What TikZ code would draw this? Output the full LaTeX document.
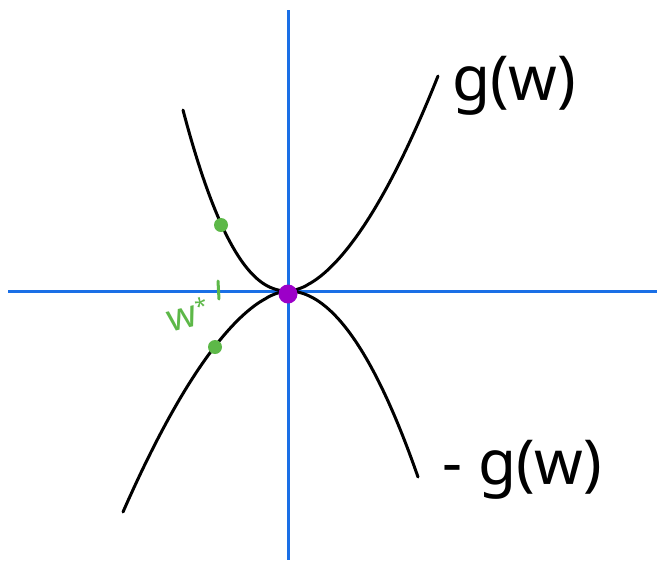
\documentclass[tikz,border=0pt]{standalone}
\usepackage{fontspec}
\setmainfont{Noto Sans}
\begin{document}
\begin{tikzpicture}[x=1pt,y=-1pt,
  axis/.style={draw=axisblue,line width=3pt},
  curve/.style={draw=black,line width=3pt,line cap=round},
  gdot/.style={circle,fill=dotgreen,inner sep=0pt,minimum size=14pt},
  pdot/.style={circle,fill=dotpurple,inner sep=0pt,minimum size=19pt},
  lbl/.style={inner sep=0pt,font=\fontsize{62}{70}\selectfont}]
\definecolor{axisblue}{HTML}{1A6FE6}
\definecolor{dotgreen}{HTML}{5DB848}
\definecolor{dotpurple}{HTML}{9C00C8}
\useasboundingbox (0,0) rectangle (659,566);
\fill[white] (0,0) rectangle (659,566);
% axes
\coordinate (xl) at (8,291);
\coordinate (xr) at (657,291);
\coordinate (yt) at (288,10);
\coordinate (yb) at (288,560);
\draw[axis] (xl) -- (xr);
\draw[axis] (yt) -- (yb);
% upper curve g(w)
\draw[curve] plot[domain=105:0,samples=60] ({288-\x},{291-181*(\x/105)^2.2})
  -- plot[domain=0:150,samples=60] ({288+\x},{291-215*(\x/150)^1.75});
% lower curve -g(w)
\draw[curve] plot[domain=165:0,samples=60] ({288-\x},{291+221*(\x/165)^1.7})
  -- plot[domain=0:130,samples=60] ({288+\x},{291+186*(\x/130)^2});
% dots
\node[gdot] (d1) at (221,225) {};
\node[gdot] (d2) at (215,347) {};
\node[pdot] (d0) at (288,294) {};
% tick and w* label
\coordinate (t1) at (218,281);
\coordinate (t2) at (219,299);
\draw[dotgreen,line width=3pt,line cap=round] (t1) -- (t2);
\node[inner sep=0pt,text=dotgreen,font=\fontsize{38}{40}\selectfont,rotate=14] (ws) at (188,314) {w\raisebox{10pt}{\fontsize{22}{22}\selectfont *}};
% labels
\node[lbl,anchor=west] (g) at (452,86) {g(w)};
\node[lbl,anchor=west] (mg) at (442,470) {-\hspace{16pt}g(w)};
\end{tikzpicture}
\end{document}
